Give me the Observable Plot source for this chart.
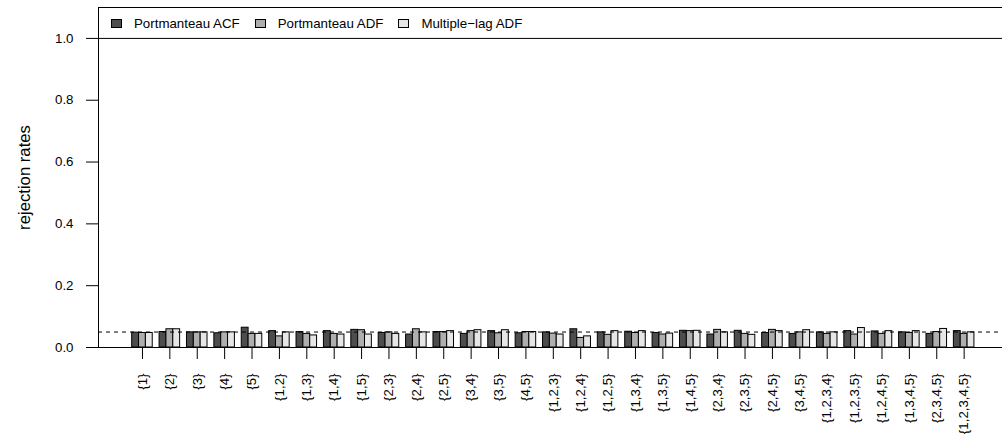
<!DOCTYPE html>
<html>
<head>
<meta charset="utf-8">
<script src="https://cdn.jsdelivr.net/npm/d3@7"></script>
<script src="https://cdn.jsdelivr.net/npm/@observablehq/plot@0.6"></script>
<style>
  html, body { margin: 0; padding: 0; background: #fff; }
  #wrap { position: relative; width: 1002px; height: 435px; font-family: "Liberation Sans", Arial, Helvetica, sans-serif; }
  #legend { position: absolute; left: 111px; top: 17px; height: 13px; display: flex; align-items: center; font-size: 13.3px; color: #000; white-space: nowrap; }
  #legend .item { display: flex; align-items: center; margin-right: 15px; }
  #legend .sw { width: 11px; height: 9px; box-sizing: border-box; border: 1px solid #000; margin-right: 12px; }
</style>
</head>
<body>
<div id="wrap"><div id="legend"></div></div>
<script>
const subsets = ["{1}","{2}","{3}","{4}","{5}","{1,2}","{1,3}","{1,4}","{1,5}","{2,3}","{2,4}","{2,5}","{3,4}","{3,5}","{4,5}",
  "{1,2,3}","{1,2,4}","{1,2,5}","{1,3,4}","{1,3,5}","{1,4,5}","{2,3,4}","{2,3,5}","{2,4,5}","{3,4,5}",
  "{1,2,3,4}","{1,2,3,5}","{1,2,4,5}","{1,3,4,5}","{2,3,4,5}","{1,2,3,4,5}"];
const seriesNames = ["Portmanteau ACF", "Portmanteau ADF", "Multiple\u2212lag ADF"];
const seriesColors = ["#4D4D4D", "#AEAEAE", "#E6E6E6"];
const portmanteauACF = [0.048,0.050,0.049,0.046,0.064,0.053,0.050,0.053,0.057,0.047,0.042,0.050,0.044,0.053,0.046,
  0.049,0.059,0.049,0.051,0.047,0.054,0.042,0.054,0.047,0.044,0.049,0.053,0.052,0.049,0.044,0.053];
const portmanteauADF = [0.047,0.059,0.049,0.049,0.044,0.036,0.044,0.044,0.056,0.049,0.059,0.050,0.053,0.046,0.050,
  0.045,0.031,0.041,0.047,0.042,0.053,0.057,0.044,0.057,0.049,0.044,0.042,0.044,0.047,0.050,0.044];
const multipleLagADF = [0.047,0.059,0.049,0.049,0.044,0.049,0.039,0.042,0.042,0.044,0.049,0.053,0.056,0.056,0.050,
  0.042,0.036,0.053,0.053,0.045,0.054,0.049,0.041,0.053,0.056,0.049,0.063,0.053,0.053,0.060,0.049];
const nominalLevel = 0.05;
const yTicks = [0, 0.2, 0.4, 0.6, 0.8, 1.0];
const yTop = 1.1;
const yTitle = "rejection rates";

const values = [portmanteauACF, portmanteauADF, multipleLagADF];
// barplot(beside=TRUE) layout units: each group = 1 space + 3 bars
const nS = seriesNames.length, step = nS + 1;
const rows = [];
subsets.forEach((lab, g) => values.forEach((arr, s) => rows.push({
  label: lab, series: seriesNames[s], value: arr[g],
  x1: g * step + 1 + s, x2: g * step + 2 + s
})));
const centers = subsets.map((_, g) => g * step + 1 + nS / 2);
const labelAt = new Map(centers.map((c, g) => [c, subsets[g]]));
const total = subsets.length * step;
const xMin = 1 - 0.04 * (total - 1);
const xMax = 128.1;

const chart = Plot.plot({
  width: 1002, height: 435,
  marginLeft: 98, marginRight: 0, marginTop: 7, marginBottom: 88,
  style: { fontFamily: "Liberation Sans, Arial, Helvetica, sans-serif", fontSize: "13.3px", background: "white", color: "#000" },
  x: { domain: [xMin, xMax], axis: null },
  y: { domain: [0, yTop], axis: null },
  color: { domain: seriesNames, range: seriesColors },
  marks: [
    Plot.rect(rows, { x1: "x1", x2: "x2", y1: 0, y2: "value", fill: "series", stroke: "#000", strokeWidth: 1 }),
    Plot.ruleY([nominalLevel], { stroke: "#000", strokeDasharray: "4,4", strokeWidth: 1 }),
    Plot.ruleY([0, 1.0, yTop], { stroke: "#000", strokeWidth: 1 }),
    Plot.ruleX([xMin], { y1: 0, y2: yTop, stroke: "#000", strokeWidth: 1 }),
    Plot.axisY({ ticks: yTicks, tickFormat: d => d.toFixed(1), tickSize: 12, tickPadding: 13, fontSize: 13.3, label: null, stroke: "#000" }),
    Plot.axisX({ ticks: centers, tickFormat: d => labelAt.get(d), tickSize: 12, tickPadding: 14, tickRotate: -90,
      textAnchor: "end", lineAnchor: "middle", fontSize: 13.3, label: null, stroke: "#000" }),
    Plot.text([yTitle], { frameAnchor: "left", textAnchor: "middle", lineAnchor: "middle", rotate: -90, dx: -74, fontSize: 16.7, fill: "#000" })
  ]
});
const wrap = document.getElementById("wrap");
wrap.insertBefore(chart, wrap.firstChild);

const legend = d3.select("#legend");
seriesNames.forEach((n, i) => {
  const it = legend.append("div").attr("class", "item");
  it.append("span").attr("class", "sw").style("background", seriesColors[i]);
  it.append("span").text(n);
});
</script>
</body>
</html>
